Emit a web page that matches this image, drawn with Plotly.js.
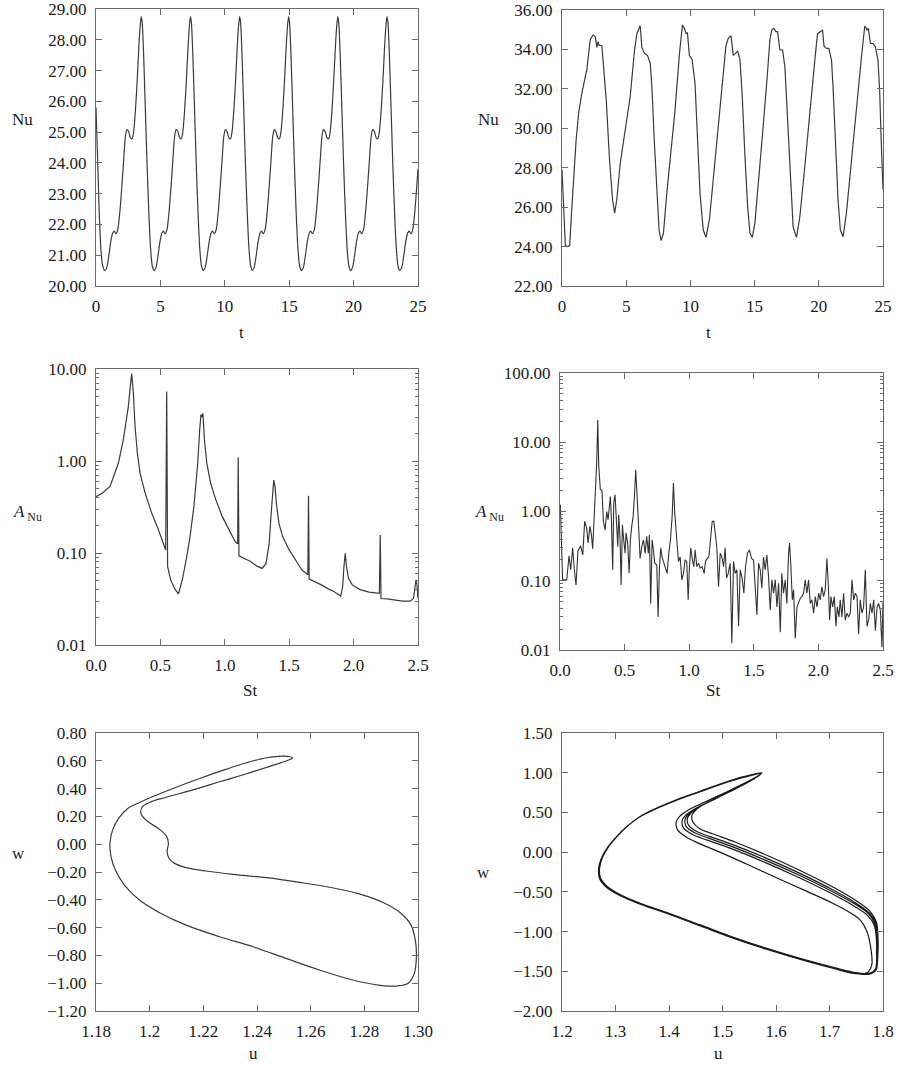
<!DOCTYPE html>
<html>
<head>
<meta charset="utf-8">
<script src="https://cdn.plot.ly/plotly-3.0.1.min.js"></script>
<style>html,body{margin:0;padding:0;background:#fff;}#plot{width:899px;height:1065px;}</style>
</head>
<body>
<div id="plot"></div>
<script>
// ---------- Panel 1: Nu(t), periodic ----------
const t1 = [0, 0.12, 0.25, 0.38, 0.52,
 0.70, 0.85, 1.00, 1.15, 1.30, 1.42, 1.55, 1.70, 1.85, 2.00, 2.15, 2.28, 2.40, 2.53, 2.67, 2.80, 2.92, 3.06, 3.20, 3.33, 3.43, 3.51, 3.59, 3.69, 3.82, 3.96, 4.10, 4.24, 4.37,
 4.52, 4.67, 4.82, 4.97, 5.12, 5.24, 5.37, 5.52, 5.67, 5.82, 5.97, 6.10, 6.22, 6.35, 6.49, 6.62, 6.74, 6.88, 7.02, 7.15, 7.25, 7.33, 7.41, 7.51, 7.64, 7.78, 7.92, 8.06, 8.19,
 8.34, 8.49, 8.64, 8.79, 8.94, 9.06, 9.19, 9.34, 9.49, 9.64, 9.79, 9.92, 10.04, 10.17, 10.31, 10.44, 10.56, 10.70, 10.84, 10.97, 11.07, 11.15, 11.23, 11.33, 11.46, 11.60, 11.74, 11.88, 12.01,
 12.14, 12.29, 12.44, 12.59, 12.74, 12.86, 12.99, 13.14, 13.29, 13.44, 13.59, 13.72, 13.84, 13.97, 14.11, 14.24, 14.36, 14.50, 14.64, 14.77, 14.87, 14.95, 15.03, 15.13, 15.26, 15.40, 15.54, 15.68, 15.81,
 15.96, 16.11, 16.26, 16.41, 16.56, 16.68, 16.81, 16.96, 17.11, 17.26, 17.41, 17.54, 17.66, 17.79, 17.93, 18.06, 18.18, 18.32, 18.46, 18.59, 18.69, 18.77, 18.85, 18.95, 19.08, 19.22, 19.36, 19.50, 19.63,
 19.78, 19.93, 20.08, 20.23, 20.38, 20.50, 20.63, 20.78, 20.93, 21.08, 21.23, 21.36, 21.48, 21.61, 21.75, 21.88, 22.00, 22.14, 22.28, 22.41, 22.51, 22.59, 22.67, 22.77, 22.90, 23.04, 23.18, 23.32, 23.45,
 23.60, 23.75, 23.90, 24.05, 24.20, 24.32, 24.45, 24.60, 24.75, 24.90, 25.00];
const nu1 = [25.8, 24.2, 22.4, 21.2, 20.65,
 20.50, 20.62, 21.00, 21.45, 21.72, 21.78, 21.70, 21.85, 22.40, 23.20, 24.10, 24.85, 25.08, 25.02, 24.82, 24.78, 25.00, 25.70, 26.70, 27.80, 28.45, 28.75, 28.55, 27.60, 25.90, 24.00, 22.40, 21.20, 20.65,
 20.50, 20.62, 21.00, 21.45, 21.72, 21.78, 21.70, 21.85, 22.40, 23.20, 24.10, 24.85, 25.08, 25.02, 24.82, 24.78, 25.00, 25.70, 26.70, 27.80, 28.45, 28.75, 28.55, 27.60, 25.90, 24.00, 22.40, 21.20, 20.65,
 20.50, 20.62, 21.00, 21.45, 21.72, 21.78, 21.70, 21.85, 22.40, 23.20, 24.10, 24.85, 25.08, 25.02, 24.82, 24.78, 25.00, 25.70, 26.70, 27.80, 28.45, 28.75, 28.55, 27.60, 25.90, 24.00, 22.40, 21.20, 20.65,
 20.50, 20.62, 21.00, 21.45, 21.72, 21.78, 21.70, 21.85, 22.40, 23.20, 24.10, 24.85, 25.08, 25.02, 24.82, 24.78, 25.00, 25.70, 26.70, 27.80, 28.45, 28.75, 28.55, 27.60, 25.90, 24.00, 22.40, 21.20, 20.65,
 20.50, 20.62, 21.00, 21.45, 21.72, 21.78, 21.70, 21.85, 22.40, 23.20, 24.10, 24.85, 25.08, 25.02, 24.82, 24.78, 25.00, 25.70, 26.70, 27.80, 28.45, 28.75, 28.55, 27.60, 25.90, 24.00, 22.40, 21.20, 20.65,
 20.50, 20.62, 21.00, 21.45, 21.72, 21.78, 21.70, 21.85, 22.40, 23.20, 24.10, 24.85, 25.08, 25.02, 24.82, 24.78, 25.00, 25.70, 26.70, 27.80, 28.45, 28.75, 28.55, 27.60, 25.90, 24.00, 22.40, 21.20, 20.65,
 20.50, 20.62, 21.00, 21.45, 21.72, 21.78, 21.70, 21.85, 22.40, 23.20, 23.80];

// ---------- Panel 2: Nu(t), quasi-periodic ----------
const t2 = [0, 0.13, 0.26, 0.45, 0.6, 0.75, 0.91, 1.1, 1.3, 1.55,
 1.94, 2.2, 2.41, 2.59, 2.72, 2.8, 2.9, 3.1, 3.24, 3.45,
 3.7, 3.94, 4.1, 4.27, 4.53, 4.92, 5.31, 5.65, 5.83, 6.09,
 6.22, 6.42, 6.66, 6.87, 7.0, 7.2, 7.38, 7.56, 7.72, 7.9,
 8.16, 8.5, 8.8, 9.15, 9.38, 9.53, 9.66, 9.77, 9.92, 10.13,
 10.36, 10.54, 10.75, 11.0, 11.22, 11.48, 11.79, 12.18, 12.51, 12.77,
 12.95, 13.16, 13.34, 13.5, 13.68, 13.86, 14.04, 14.25, 14.46, 14.64,
 14.82, 15.02, 15.36, 15.67, 15.98, 16.19, 16.35, 16.5, 16.66, 16.79,
 16.97, 17.18, 17.36, 17.54, 17.75, 18.0, 18.26, 18.52, 18.91, 19.3,
 19.69, 19.9, 20.13, 20.29, 20.41, 20.6, 20.78, 20.99, 21.11, 21.3,
 21.5, 21.68, 21.89, 22.15, 22.54, 22.93, 23.32, 23.58, 23.76, 23.86,
 24.02, 24.22, 24.4, 24.61, 24.74, 24.87, 25.0];
const nu2 = [27.9, 25.5, 24.05, 24.0, 24.05, 25.8, 27.6, 29.4, 30.8, 31.8,
 33.0, 34.5, 34.73, 34.65, 34.1, 34.4, 34.2, 34.2, 33.1, 31.4,
 28.4, 26.36, 25.7, 26.4, 28.2, 29.9, 31.6, 33.97, 34.8, 35.2,
 34.1, 33.8, 33.7, 33.3, 32.1, 29.2, 26.7, 24.84, 24.3, 24.67,
 26.7, 28.9, 30.9, 33.8, 35.24, 35.07, 34.8, 34.85, 33.7, 33.5,
 32.3, 29.7, 26.7, 24.84, 24.47, 25.35, 27.55, 30.1, 32.45, 34.2,
 34.56, 34.7, 33.7, 33.8, 33.9, 33.5, 31.6, 28.56, 26.0, 24.67,
 24.47, 25.18, 27.55, 30.1, 32.6, 34.48, 34.99, 35.07, 34.9, 34.9,
 33.97, 33.97, 33.1, 30.9, 27.7, 25.0, 24.47, 25.5, 28.05, 30.9,
 33.46, 34.8, 34.9, 34.99, 34.15, 34.05, 34.05, 33.46, 32.1, 29.4,
 26.36, 24.84, 24.5, 25.7, 28.4, 31.1, 33.6, 35.19, 34.99, 35.07,
 34.3, 34.3, 34.15, 33.46, 31.9, 29.2, 26.9];

// ---------- Panel 3: amplitude spectrum (periodic case) ----------
const st3 = [0, 0.05, 0.109, 0.174, 0.212, 0.251, 0.269, 0.277, 0.290, 0.303,
 0.321, 0.342, 0.381, 0.433, 0.484, 0.528, 0.541, 0.549, 0.556, 0.58,
 0.61, 0.64, 0.67, 0.70, 0.73, 0.76, 0.79, 0.805, 0.815, 0.823,
 0.83, 0.842, 0.86, 0.89, 0.93, 0.98, 1.03, 1.08, 1.10, 1.104,
 1.11, 1.15, 1.20, 1.25, 1.29, 1.32, 1.345, 1.36, 1.372, 1.38,
 1.39, 1.40, 1.42, 1.45, 1.50, 1.55, 1.60, 1.645, 1.65, 1.655,
 1.70, 1.75, 1.80, 1.85, 1.90, 1.915, 1.925, 1.935, 1.945, 1.96,
 1.99, 2.05, 2.12, 2.20, 2.207, 2.213, 2.26, 2.32, 2.38, 2.44,
 2.465, 2.477, 2.485, 2.492, 2.50];
const a3 = [0.41, 0.45, 0.53, 0.95, 1.7, 3.9, 7.0, 8.9, 5.5, 2.4,
 1.22, 0.74, 0.45, 0.27, 0.18, 0.123, 0.108, 5.7, 0.071, 0.051,
 0.041, 0.036, 0.051, 0.084, 0.15, 0.32, 0.95, 2.19, 3.2, 3.0,
 3.3, 1.7, 0.95, 0.575, 0.38, 0.25, 0.18, 0.133, 0.126, 1.10,
 0.093, 0.088, 0.081, 0.072, 0.068, 0.077, 0.128, 0.27, 0.53, 0.62,
 0.53, 0.35, 0.21, 0.15, 0.108, 0.084, 0.065, 0.058, 0.42, 0.052,
 0.049, 0.045, 0.041, 0.038, 0.034, 0.043, 0.071, 0.0995, 0.071, 0.053,
 0.045, 0.040, 0.0375, 0.0365, 0.157, 0.032, 0.0317, 0.031, 0.030, 0.030,
 0.032, 0.043, 0.051, 0.045, 0.032];

// ---------- Panel 4: amplitude spectrum (quasi-periodic case) ----------
const st4 = [0.003, 0.02, 0.052, 0.070, 0.083, 0.098, 0.111, 0.124, 0.139, 0.160,
 0.176, 0.191, 0.207, 0.217, 0.232, 0.243, 0.253, 0.263, 0.274, 0.284,
 0.292, 0.300, 0.312, 0.325, 0.336, 0.349, 0.362, 0.372, 0.382, 0.390,
 0.398, 0.408, 0.416, 0.426, 0.439, 0.447, 0.455, 0.465, 0.473, 0.483,
 0.493, 0.504, 0.511, 0.524, 0.535, 0.545, 0.555, 0.566, 0.576, 0.586,
 0.597, 0.609, 0.620, 0.633, 0.646, 0.659, 0.671, 0.684, 0.692, 0.702,
 0.713, 0.723, 0.733, 0.749, 0.759, 0.770, 0.780, 0.790, 0.803, 0.816,
 0.829, 0.842, 0.855, 0.868, 0.878, 0.888, 0.904, 0.917, 0.930, 0.943,
 0.956, 0.968, 0.981, 0.992, 1.002, 1.012, 1.025, 1.036, 1.046, 1.059,
 1.072, 1.085, 1.100, 1.116, 1.126, 1.139, 1.152, 1.165, 1.178, 1.191,
 1.204, 1.214, 1.227, 1.240, 1.253, 1.266, 1.278, 1.289, 1.302, 1.317,
 1.330, 1.343, 1.356, 1.369, 1.382, 1.395, 1.410, 1.423, 1.436, 1.451,
 1.467, 1.482, 1.498, 1.511, 1.524, 1.537, 1.550, 1.562, 1.575, 1.588,
 1.601, 1.614, 1.627, 1.640, 1.653, 1.666, 1.679, 1.692, 1.705, 1.717,
 1.730, 1.743, 1.756, 1.769, 1.777, 1.787, 1.798, 1.808, 1.821, 1.834,
 1.847, 1.860, 1.872, 1.885, 1.898, 1.911, 1.924, 1.937, 1.950, 1.963,
 1.976, 1.989, 2.002, 2.014, 2.027, 2.040, 2.053, 2.066, 2.076, 2.087,
 2.097, 2.110, 2.123, 2.136, 2.146, 2.159, 2.169, 2.182, 2.195, 2.208,
 2.221, 2.234, 2.247, 2.260, 2.273, 2.286, 2.299, 2.311, 2.324, 2.337,
 2.350, 2.363, 2.376, 2.389, 2.402, 2.415, 2.428, 2.441, 2.454, 2.466,
 2.479, 2.492, 2.500];
const a4 = [1.25, 0.103, 0.103, 0.23, 0.144, 0.30, 0.144, 0.087, 0.27, 0.32,
 0.236, 0.72, 0.57, 0.35, 0.61, 0.46, 0.29, 0.68, 1.32, 5.0,
 21.0, 4.5, 2.1, 2.0, 0.72, 0.54, 1.0, 0.76, 1.18, 1.65,
 0.76, 0.144, 1.32, 1.75, 0.61, 0.31, 0.9, 0.39, 0.087, 0.64,
 0.39, 0.25, 0.49, 0.35, 0.128, 0.39, 0.61, 0.85, 1.65, 4.0,
 1.65, 0.49, 0.21, 0.31, 0.39, 0.25, 0.44, 0.25, 0.46, 0.047,
 0.39, 0.28, 0.179, 0.169, 0.030, 0.16, 0.30, 0.22, 0.179, 0.16,
 0.128, 0.25, 0.39, 0.85, 2.57, 0.95, 0.39, 0.19, 0.22, 0.103,
 0.128, 0.20, 0.19, 0.053, 0.16, 0.30, 0.20, 0.16, 0.28, 0.16,
 0.179, 0.152, 0.16, 0.128, 0.19, 0.21, 0.22, 0.39, 0.72, 0.72,
 0.39, 0.30, 0.082, 0.25, 0.22, 0.16, 0.30, 0.109, 0.128, 0.179,
 0.0125, 0.19, 0.128, 0.144, 0.022, 0.144, 0.109, 0.066, 0.16, 0.25,
 0.28, 0.21, 0.20, 0.082, 0.032, 0.179, 0.144, 0.078, 0.22, 0.144,
 0.236, 0.115, 0.038, 0.103, 0.066, 0.103, 0.042, 0.092, 0.018, 0.128,
 0.066, 0.103, 0.047, 0.25, 0.35, 0.16, 0.053, 0.074, 0.0148, 0.042,
 0.050, 0.056, 0.059, 0.066, 0.103, 0.066, 0.103, 0.047, 0.053, 0.034,
 0.059, 0.042, 0.066, 0.053, 0.082, 0.059, 0.074, 0.21, 0.092, 0.027,
 0.059, 0.042, 0.059, 0.022, 0.042, 0.030, 0.053, 0.030, 0.066, 0.027,
 0.034, 0.030, 0.034, 0.103, 0.053, 0.066, 0.059, 0.017, 0.053, 0.034,
 0.042, 0.144, 0.022, 0.027, 0.047, 0.034, 0.053, 0.019, 0.042, 0.047,
 0.038, 0.011, 0.05];

// ---------- Panel 5: phase portrait (periodic) ----------
const u5 = [1.2533, 1.2498, 1.2436, 1.2361, 1.2286, 1.2186, 1.2087, 1.2012, 1.1962, 1.1918,
 1.1885, 1.1862, 1.1852, 1.1856, 1.1872, 1.1906, 1.1962, 1.2037, 1.2136, 1.2261,
 1.2386, 1.2510, 1.2635, 1.2760, 1.2859, 1.2922, 1.2965, 1.2986, 1.2994, 1.2990,
 1.2974, 1.2934, 1.2872, 1.2784, 1.2685, 1.2560, 1.2436, 1.2311, 1.2211, 1.2136,
 1.2093, 1.2072, 1.2065, 1.2070, 1.2062, 1.2031, 1.1993, 1.1968, 1.1972, 1.1999,
 1.2062, 1.2161, 1.2261, 1.2361, 1.2448, 1.2510, 1.2533];
const w5 = [0.620, 0.634, 0.622, 0.586, 0.540, 0.473, 0.401, 0.343, 0.300, 0.257,
 0.187, 0.103, 0.007, -0.089, -0.186, -0.294, -0.402, -0.493, -0.582, -0.666,
 -0.738, -0.823, -0.907, -0.979, -1.015, -1.020, -0.998, -0.931, -0.811, -0.690,
 -0.582, -0.493, -0.421, -0.359, -0.315, -0.275, -0.241, -0.217, -0.193, -0.169,
 -0.138, -0.101, -0.053, 0.007, 0.060, 0.115, 0.163, 0.218, 0.266, 0.300,
 0.338, 0.391, 0.449, 0.507, 0.560, 0.600, 0.620];

// ---------- Panel 6: phase portrait (quasi-periodic, several loops) ----------
const u6 = [
 1.5731, 1.5389, 1.5016, 1.4581, 1.4146, 1.3772, 1.3461, 1.3213, 1.3026, 1.2871, 1.2746, 1.2697, 1.2715, 1.2840, 1.3088, 1.3461, 1.3959, 1.4581, 1.5203, 1.5825, 1.6447, 1.7068, 1.7504, 1.7753, 1.7864, 1.7896, 1.7896, 1.7864, 1.7753, 1.7504, 1.7068, 1.6447, 1.5825, 1.5203, 1.4767, 1.4519, 1.4363, 1.4345, 1.4407, 1.4581, 1.4892, 1.5265, 1.5576,
 1.5725, 1.5380, 1.5010, 1.4575, 1.4140, 1.3765, 1.3455, 1.3205, 1.3018, 1.2862, 1.2738, 1.2690, 1.2710, 1.2835, 1.3085, 1.3458, 1.3955, 1.4578, 1.5200, 1.5822, 1.6444, 1.7065, 1.7500, 1.7750, 1.7860, 1.7880, 1.7875, 1.7835, 1.7715, 1.7460, 1.7020, 1.6395, 1.5770, 1.5140, 1.4700, 1.4440, 1.4270, 1.4245, 1.4310, 1.4500, 1.4830, 1.5220, 1.5550,
 1.5740, 1.5395, 1.5022, 1.4588, 1.4152, 1.3778, 1.3466, 1.3220, 1.3032, 1.2878, 1.2752, 1.2703, 1.2720, 1.2846, 1.3092, 1.3464, 1.3962, 1.4584, 1.5206, 1.5828, 1.6450, 1.7071, 1.7508, 1.7760, 1.7870, 1.7905, 1.7905, 1.7878, 1.7770, 1.7528, 1.7098, 1.6480, 1.5860, 1.5245, 1.4815, 1.4568, 1.4442, 1.4432, 1.4500, 1.4660, 1.4945, 1.5300, 1.5595,
 1.5720, 1.5375, 1.5005, 1.4570, 1.4136, 1.3760, 1.3450, 1.3200, 1.3012, 1.2855, 1.2730, 1.2683, 1.2705, 1.2830, 1.3080, 1.3452, 1.3950, 1.4572, 1.5195, 1.5818, 1.6440, 1.7060, 1.7490, 1.7700, 1.7790, 1.7770, 1.7700, 1.7580, 1.7380, 1.7050, 1.6600, 1.6000, 1.5450, 1.4950, 1.4560, 1.4320, 1.4160, 1.4135, 1.4200, 1.4400, 1.4760, 1.5180, 1.5530,
 1.5735, 1.5392, 1.5019, 1.4584, 1.4149, 1.3775, 1.3463, 1.3216, 1.3029, 1.2874, 1.2749, 1.2700, 1.2718, 1.2843, 1.3090, 1.3462, 1.3960, 1.4582, 1.5204, 1.5826, 1.6448, 1.7070, 1.7510, 1.7790, 1.7880, 1.7890, 1.7880, 1.7850, 1.7740, 1.7490, 1.7050, 1.6425, 1.5800, 1.5180, 1.4740, 1.4490, 1.4320, 1.4300, 1.4365, 1.4545, 1.4870, 1.5245, 1.5565,
 1.5731];
const w6 = [
 0.995, 0.945, 0.869, 0.764, 0.659, 0.553, 0.448, 0.322, 0.196, 0.070, -0.078, -0.204, -0.330, -0.435, -0.540, -0.646, -0.763, -0.919, -1.075, -1.214, -1.340, -1.453, -1.521, -1.529, -1.466, -1.277, -1.066, -0.898, -0.772, -0.646, -0.477, -0.267, -0.078, 0.091, 0.196, 0.259, 0.343, 0.427, 0.490, 0.574, 0.680, 0.806, 0.919,
 0.990, 0.942, 0.866, 0.760, 0.655, 0.550, 0.445, 0.318, 0.192, 0.066, -0.082, -0.208, -0.334, -0.438, -0.543, -0.650, -0.766, -0.922, -1.078, -1.218, -1.344, -1.458, -1.527, -1.535, -1.470, -1.280, -1.080, -0.920, -0.800, -0.680, -0.515, -0.310, -0.122, 0.050, 0.155, 0.222, 0.305, 0.395, 0.462, 0.552, 0.665, 0.797, 0.914,
 1.000, 0.950, 0.873, 0.768, 0.662, 0.557, 0.452, 0.326, 0.200, 0.074, -0.074, -0.200, -0.326, -0.432, -0.537, -0.643, -0.760, -0.916, -1.072, -1.211, -1.337, -1.450, -1.517, -1.524, -1.460, -1.270, -1.055, -0.885, -0.755, -0.625, -0.452, -0.240, -0.048, 0.125, 0.232, 0.298, 0.385, 0.470, 0.530, 0.605, 0.700, 0.818, 0.925,
 0.988, 0.938, 0.862, 0.757, 0.652, 0.547, 0.442, 0.316, 0.190, 0.063, -0.085, -0.212, -0.338, -0.442, -0.546, -0.652, -0.770, -0.926, -1.082, -1.222, -1.348, -1.462, -1.530, -1.520, -1.420, -1.200, -1.000, -0.860, -0.760, -0.640, -0.500, -0.320, -0.150, 0.000, 0.110, 0.190, 0.280, 0.380, 0.450, 0.545, 0.660, 0.792, 0.910,
 0.997, 0.947, 0.871, 0.766, 0.661, 0.555, 0.450, 0.324, 0.198, 0.072, -0.076, -0.202, -0.328, -0.433, -0.538, -0.644, -0.761, -0.917, -1.073, -1.212, -1.338, -1.451, -1.519, -1.527, -1.470, -1.290, -1.070, -0.905, -0.782, -0.660, -0.495, -0.288, -0.100, 0.070, 0.176, 0.240, 0.325, 0.412, 0.478, 0.565, 0.673, 0.802, 0.917,
 0.995];

// tick labels
const xt5 = [1.18, 1.20, 1.22, 1.24, 1.26, 1.28, 1.30];
const xt5Text = ['1.18', '1.2', '1.22', '1.24', '1.26', '1.28', '1.30'];
const logTicks = [0.01, 0.1, 1, 10, 100];
const logText = ['0.01', '0.10', '1.00', '10.00', '100.00'];

// ---------- layout helpers ----------
const W = 899, H = 1065;
const FONT = '"Liberation Serif", "DejaVu Serif", serif';
const TXT = '#1a1a1a';
const AX = '#6a6a6a';
function dx(a, b) { return [a / W, b / W]; }
function dy(top, bot) { return [1 - bot / H, 1 - top / H]; }
function axis(extra) {
  return Object.assign({
    showline: true, linecolor: AX, linewidth: 1, mirror: 'ticks',
    ticks: 'inside', ticklen: 6, tickwidth: 1, tickcolor: AX,
    showgrid: false, zeroline: false, fixedrange: true,
    tickfont: { family: FONT, size: 17, color: TXT },
    ticklabelstandoff: 5, ticklabeloverflow: 'allow'
  }, extra);
}
const minorLog = { ticks: 'inside', ticklen: 3, tickcolor: AX, dtick: 'D1', showgrid: false };
const lineStyle = { color: '#3a3a3a', width: 1.2 };

const data = [
  { x: t1, y: nu1, xaxis: 'x', yaxis: 'y', type: 'scatter', mode: 'lines', line: Object.assign({ shape: 'spline', smoothing: 0.6 }, lineStyle) },
  { x: t2, y: nu2, xaxis: 'x2', yaxis: 'y2', type: 'scatter', mode: 'lines', line: lineStyle },
  { x: st3, y: a3, xaxis: 'x3', yaxis: 'y3', type: 'scatter', mode: 'lines', line: lineStyle },
  { x: st4, y: a4, xaxis: 'x4', yaxis: 'y4', type: 'scatter', mode: 'lines', line: { color: '#333', width: 1.1 } },
  { x: u5, y: w5, xaxis: 'x5', yaxis: 'y5', type: 'scatter', mode: 'lines', line: Object.assign({ shape: 'spline', smoothing: 1 }, lineStyle) },
  { x: u6, y: w6, xaxis: 'x6', yaxis: 'y6', type: 'scatter', mode: 'lines', line: { color: '#1a1a1a', width: 1.2, shape: 'spline', smoothing: 1 } }
];

const layout = {
  width: W, height: H, margin: { l: 0, r: 0, t: 0, b: 0 },
  paper_bgcolor: '#fff', plot_bgcolor: '#fff', showlegend: false,
  font: { family: FONT, color: TXT, size: 17 },
  xaxis: axis({ domain: dx(96, 418), anchor: 'y', range: [0, 25], dtick: 5, tick0: 0 }),
  yaxis: axis({ domain: dy(9, 286), anchor: 'x', range: [20, 29], dtick: 1, tickformat: '.2f' }),
  xaxis2: axis({ domain: dx(562, 883), anchor: 'y2', range: [0, 25], dtick: 5, tick0: 0 }),
  yaxis2: axis({ domain: dy(10, 286), anchor: 'x2', range: [22, 36], dtick: 2, tickformat: '.2f' }),
  xaxis3: axis({ domain: dx(96, 418), anchor: 'y3', range: [0, 2.5], dtick: 0.5, tick0: 0, tickformat: '.1f' }),
  yaxis3: axis({ domain: dy(369, 645), anchor: 'x3', type: 'log', range: [-2, 1], tickmode: 'array', tickvals: logTicks, ticktext: logText, minor: minorLog }),
  xaxis4: axis({ domain: dx(560, 883), anchor: 'y4', range: [0, 2.5], dtick: 0.5, tick0: 0, tickformat: '.1f' }),
  yaxis4: axis({ domain: dy(373, 650), anchor: 'x4', type: 'log', range: [-2, 2], tickmode: 'array', tickvals: logTicks, ticktext: logText, minor: minorLog }),
  xaxis5: axis({ domain: dx(96, 418), anchor: 'y5', range: [1.18, 1.30], tickmode: 'array', tickvals: xt5, ticktext: xt5Text }),
  yaxis5: axis({ domain: dy(733, 1011), anchor: 'x5', range: [-1.2, 0.8], dtick: 0.2, tick0: 0, tickformat: '.2f' }),
  xaxis6: axis({ domain: dx(562, 883), anchor: 'y6', range: [1.2, 1.8], dtick: 0.1, tick0: 1.2, tickformat: '.1f' }),
  yaxis6: axis({ domain: dy(733, 1011), anchor: 'x6', range: [-2, 1.5], dtick: 0.5, tick0: 0, tickformat: '.2f' }),
  annotations: []
};

function label(text, px, py) {
  layout.annotations.push({
    text: text, xref: 'paper', yref: 'paper', x: px / W, y: 1 - py / H,
    xanchor: 'center', yanchor: 'middle', showarrow: false,
    font: { family: FONT, size: 17, color: TXT }
  });
}
label('Nu', 22, 120);
label('Nu', 488, 120);
label('t', 242, 332);
label('t', 708, 332);
label('<i>A</i><sub> Nu</sub>', 27, 513);
label('<i>A</i><sub> Nu</sub>', 489, 513);
label('St', 250, 690);
label('St', 713, 690);
label('w', 18, 853);
label('w', 483, 872);
label('u', 253, 1053);
label('u', 718, 1053);

Plotly.newPlot('plot', data, layout, { displayModeBar: false, staticPlot: true });
</script>
</body>
</html>
